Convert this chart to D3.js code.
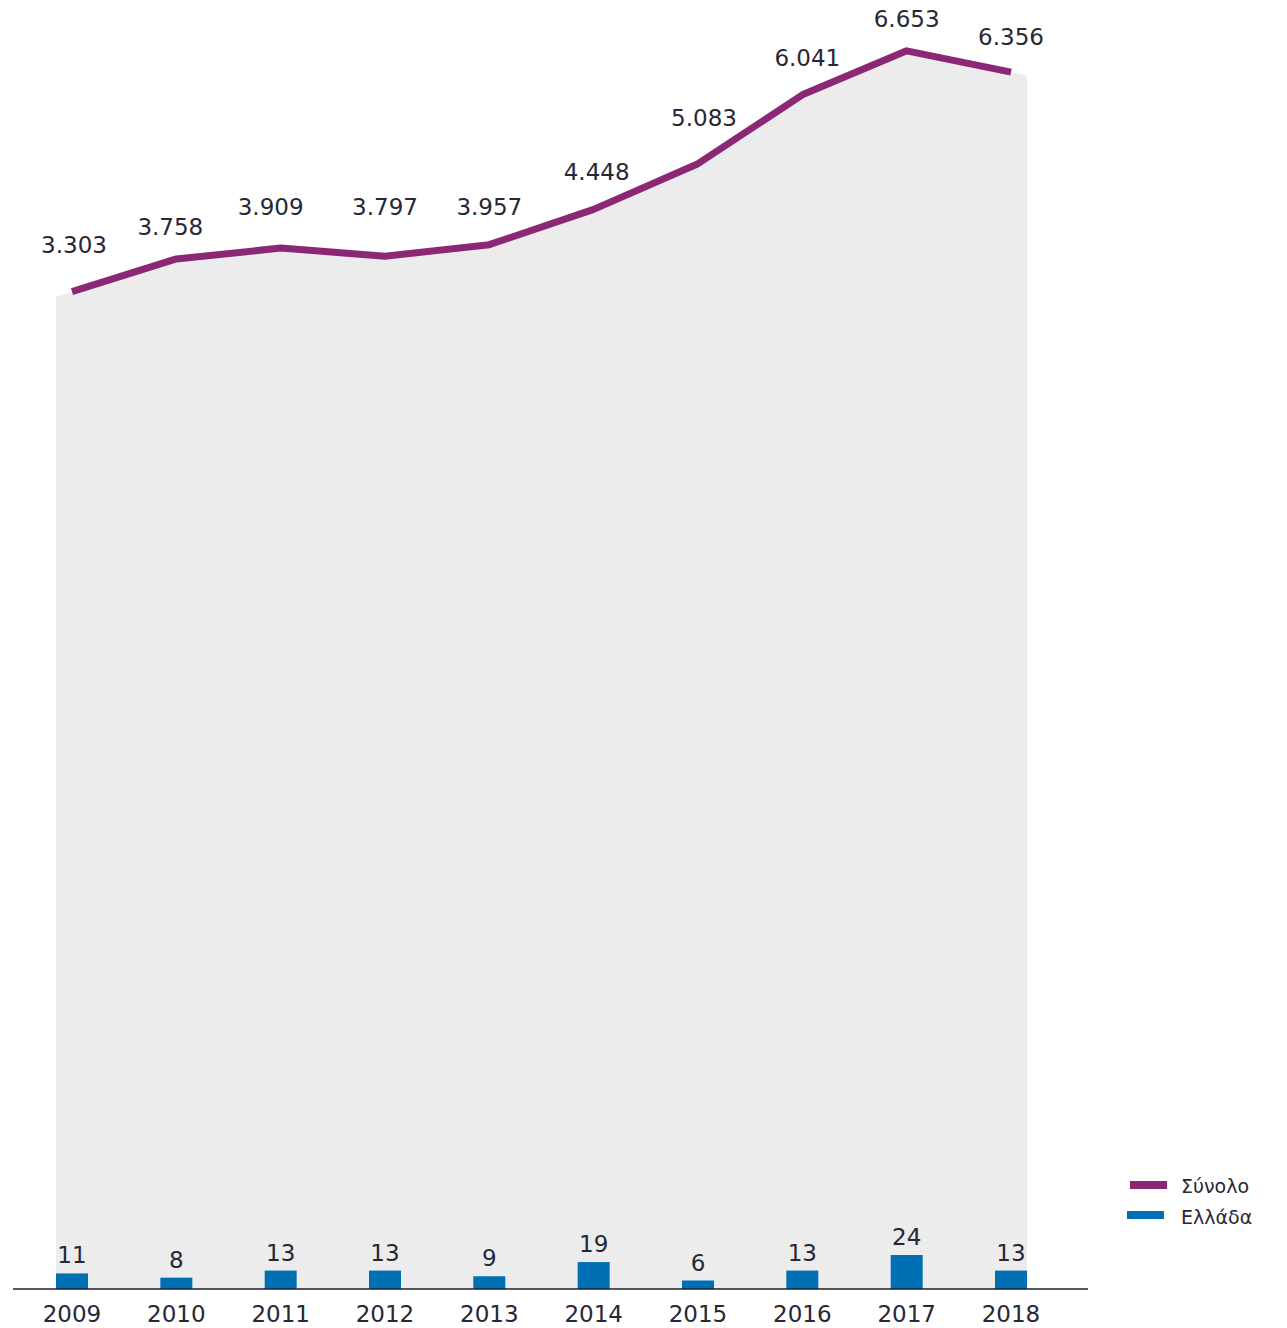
<!DOCTYPE html>
<html>
<head>
<meta charset="utf-8">
<script src="https://cdn.jsdelivr.net/npm/d3@7/dist/d3.min.js"></script>
<style>
  html, body { margin: 0; padding: 0; background: #ffffff; }
  svg { display: block; }
  text { font-family: "DejaVu Sans", Verdana, sans-serif; fill: #272736; }
</style>
</head>
<body>
<svg id="chart" width="1287" height="1328"></svg>
<script>
// Years on the category axis
const years = ["2009", "2010", "2011", "2012", "2013", "2014", "2015", "2016", "2017", "2018"];
// Total (line, primary scale)
const totalValues = [3303, 3758, 3909, 3797, 3957, 4448, 5083, 6041, 6653, 6356];
// Greece (bars, secondary scale)
const greeceValues = [11, 8, 13, 13, 9, 19, 6, 13, 24, 13];
// Legend entries
const seriesNames = ["Σύνολο", "Ελλάδα"];

// Per-label nudges [dx, dy] for the total labels, relative to the default spot
const labelNudge = [[2, -9], [-6, 6], [-10, -3], [0, -11], [0, 0], [3, 1], [6, -8], [5, 1], [0, 6], [0, 3]];

const colors = { total: "#8b2775", greece: "#0070b5", area: "#ececec", axis: "#1e1e2c" };

const svg = d3.select("#chart");
const baseY = 1289;
const barW = 32;
const labelSize = 23;

const x = d3.scalePoint().domain(years).range([72, 1011]);
const yTotal = d3.scaleLinear().domain([-10568, 7000]).range([baseY, baseY - 17568 * 0.0719]);
const yBar = d3.scaleLinear().domain([0, 24]).range([baseY, baseY - 34]);

const fmt = v => d3.format(",")(v).replace(/,/g, ".");

// Points of the total line
const pts = years.map((yr, i) => [x(yr), yTotal(totalValues[i])]);

// Shaded area under the line, carried out to the outer bar edges
function extend(p0, p1, toX) {
  const slope = (p1[1] - p0[1]) / (p1[0] - p0[0]);
  return [toX, p0[1] + slope * (toX - p0[0])];
}
const n = pts.length;
const areaPts = [extend(pts[0], pts[1], pts[0][0] - barW / 2), ...pts, extend(pts[n - 1], pts[n - 2], pts[n - 1][0] + barW / 2)];
svg.append("path")
  .datum(areaPts)
  .attr("fill", colors.area)
  .attr("d", d3.area().x(d => d[0]).y0(baseY).y1(d => d[1]));

// Greece bars
svg.append("g").selectAll("rect")
  .data(greeceValues)
  .join("rect")
  .attr("x", (d, i) => x(years[i]) - barW / 2)
  .attr("width", barW)
  .attr("y", d => yBar(d))
  .attr("height", d => baseY - yBar(d))
  .attr("fill", colors.greece);

// Bar value labels
svg.append("g").selectAll("text")
  .data(greeceValues)
  .join("text")
  .attr("x", (d, i) => x(years[i]))
  .attr("y", d => yBar(d) - 10)
  .attr("text-anchor", "middle")
  .attr("font-size", labelSize)
  .text(d => d);

// Total line
svg.append("path")
  .datum(totalValues)
  .attr("fill", "none")
  .attr("stroke", colors.total)
  .attr("stroke-width", 7)
  .attr("stroke-linejoin", "round")
  .attr("d", d3.line().x((d, i) => x(years[i])).y(d => yTotal(d)));

// Total value labels
svg.append("g").selectAll("text")
  .data(totalValues)
  .join("text")
  .attr("x", (d, i) => x(years[i]) + labelNudge[i][0])
  .attr("y", (d, i) => yTotal(d) - 30 + labelNudge[i][1])
  .attr("text-anchor", "middle")
  .attr("font-size", labelSize)
  .text(d => fmt(d));

// Category axis
const axisG = svg.append("g").attr("transform", `translate(0,${baseY})`);
axisG.append("line")
  .attr("x1", 13).attr("x2", 1088)
  .attr("stroke", colors.axis).attr("stroke-width", 1.5);
axisG.selectAll("text.year")
  .data(years)
  .join("text")
  .attr("class", "year")
  .attr("x", d => x(d))
  .attr("y", 33)
  .attr("text-anchor", "middle")
  .attr("font-size", labelSize)
  .text(d => d);

// Legend
const legend = svg.append("g");
const legendRows = [
  { name: seriesNames[0], color: colors.total, x: 1130, y: 1185, ty: 1193 },
  { name: seriesNames[1], color: colors.greece, x: 1127, y: 1215, ty: 1224 }
];
legend.selectAll("rect")
  .data(legendRows)
  .join("rect")
  .attr("x", d => d.x).attr("y", d => d.y - 4)
  .attr("width", 37).attr("height", 8)
  .attr("fill", d => d.color);
legend.selectAll("text")
  .data(legendRows)
  .join("text")
  .attr("x", 1181).attr("y", d => d.ty)
  .attr("font-size", 19)
  .text(d => d.name);
</script>
</body>
</html>
